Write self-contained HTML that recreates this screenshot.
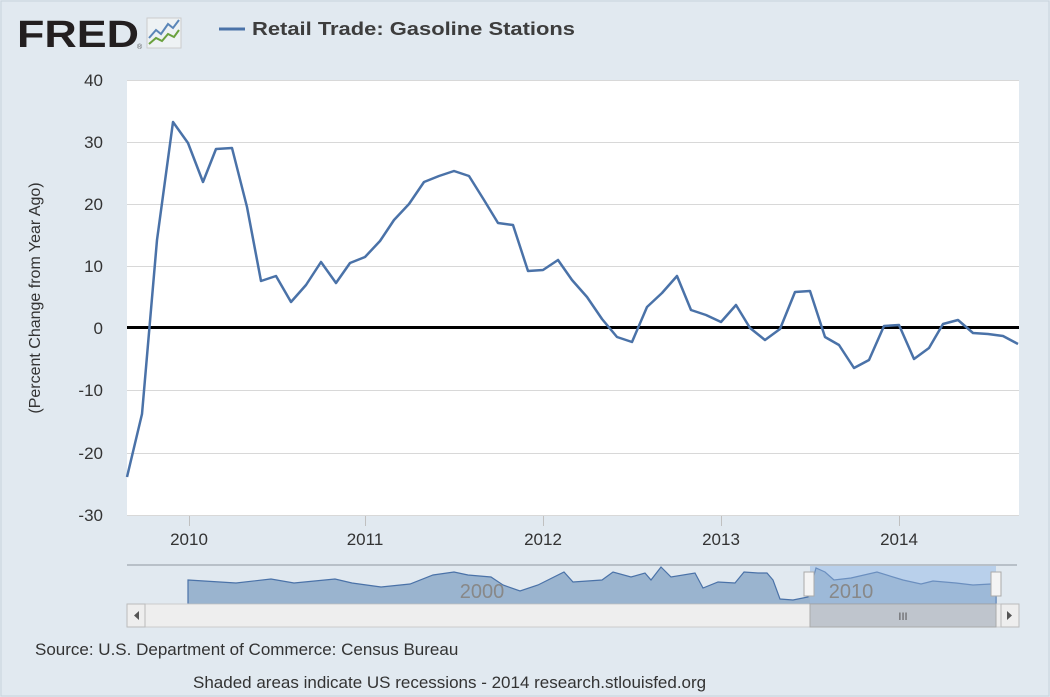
<!DOCTYPE html>
<html><head><meta charset="utf-8"><style>
html,body{margin:0;padding:0;background:#e1e9f0;}
svg{display:block;font-family:"Liberation Sans",sans-serif;}
</style></head><body>
<svg width="1050" height="697" viewBox="0 0 1050 697">
<rect x="0" y="0" width="1050" height="697" fill="#e1e9f0"/>
<rect x="1" y="1" width="1048" height="695" fill="none" stroke="#c8d2dc"/>
<!-- header -->
<text x="17" y="47" font-size="38" font-weight="bold" fill="#231f20" textLength="122" lengthAdjust="spacingAndGlyphs">FRED</text>
<text x="137" y="49" font-size="7" fill="#555">®</text>
<rect x="147" y="18" width="34" height="30" fill="#eef2f4" stroke="#ccc"/>
<polyline points="149,38 156,30 161,34 168,24 173,28 179,20" fill="none" stroke="#5b86b8" stroke-width="2"/>
<polyline points="149,44 156,38 162,41 168,34 174,37 179,30" fill="none" stroke="#6aa13e" stroke-width="2"/>
<line x1="219" y1="29" x2="245" y2="29" stroke="#4a72a8" stroke-width="3"/>
<text x="252" y="35" font-size="18" font-weight="bold" fill="#3d3d3d" textLength="323" lengthAdjust="spacingAndGlyphs">Retail Trade: Gasoline Stations</text>
<!-- plot -->
<rect x="127" y="80" width="892" height="436" fill="#fff"/>
<g stroke="#d8d8d8" stroke-width="1">
<line x1="127" y1="80.5" x2="1019" y2="80.5"/><line x1="127" y1="142.5" x2="1019" y2="142.5"/>
<line x1="127" y1="204.5" x2="1019" y2="204.5"/><line x1="127" y1="266.5" x2="1019" y2="266.5"/>
<line x1="127" y1="390.5" x2="1019" y2="390.5"/><line x1="127" y1="453.5" x2="1019" y2="453.5"/>
<line x1="127" y1="515.5" x2="1019" y2="515.5"/>
</g>
<line x1="127" y1="327.5" x2="1019" y2="327.5" stroke="#000" stroke-width="3"/>
<g stroke="#c0c0c0"><line x1="189.5" y1="516" x2="189.5" y2="526"/><line x1="365.5" y1="516" x2="365.5" y2="526"/><line x1="543.5" y1="516" x2="543.5" y2="526"/><line x1="721.5" y1="516" x2="721.5" y2="526"/><line x1="899.5" y1="516" x2="899.5" y2="526"/></g>
<g font-size="17" fill="#333" text-anchor="end">
<text x="103" y="86">40</text><text x="103" y="148">30</text><text x="103" y="210">20</text><text x="103" y="272">10</text><text x="103" y="334">0</text><text x="103" y="396">-10</text><text x="103" y="459">-20</text><text x="103" y="521">-30</text>
</g>
<g font-size="17" fill="#333" text-anchor="middle">
<text x="189" y="545">2010</text><text x="365" y="545">2011</text><text x="543" y="545">2012</text><text x="721" y="545">2013</text><text x="899" y="545">2014</text>
</g>
<text transform="translate(40,298) rotate(-90)" font-size="16" fill="#333" text-anchor="middle">(Percent Change from Year Ago)</text>
<polyline fill="none" stroke="#4a72a8" stroke-width="2.5" stroke-linejoin="round" points="127,477 142,414 157,240 173,122 188,143 203,182 216,149 232,148 247,207 261,281 276,276 291,302 306,285 321,262 336,283 350,263 365,257 380,241 394,220 409,204 424,182 439,176 454,171 469,176 484,200 498,223 513,225 528,271 543,270 558,260 572,280 587,297 602,319 617,337 632,342 647,307 662,293 677,276 691,310 706,315 721,322 736,305 750,328 765,340 780,329 795,292 810,291 825,337 839,345 854,368 869,360 884,326 899,325 914,359 929,348 943,324 958,320 973,333 988,334 1003,336 1018,344"/>
<!-- navigator -->
<line x1="127" y1="565" x2="1017" y2="565" stroke="#b8c0c8" stroke-width="2"/>
<rect x="810" y="566" width="186" height="38" fill="#c2d6ec"/>
<path d="M188,580 L236,583 271,579 294,583 335,579 352,583 381,587 410,584 433,575 454,572 468,575 491,577 503,585 520,591 538,585 564,572 573,582 602,580 613,572 631,577 645,573 651,580 661,567 671,577 695,573 703,588 718,582 735,583 744,572 758,573 767,573 773,580 780,599 793,600 808,597 816,568 825,572 834,580 851,578 877,572 903,580 921,584 933,581 956,583 973,585 991,584 996,584 L996,604 L188,604 Z" fill="#92aecb" fill-opacity="0.9" stroke="#4a72a8" stroke-width="1.2"/>
<rect x="810" y="566" width="186" height="38" fill="#a8c6ea" fill-opacity="0.35"/>
<text x="482" y="598" font-size="20" fill="#888" text-anchor="middle">2000</text>
<text x="851" y="598" font-size="20" fill="#888" text-anchor="middle">2010</text>
<rect x="804" y="572" width="10" height="24" fill="#f4f4f4" stroke="#aaa"/>
<rect x="991" y="572" width="10" height="24" fill="#f4f4f4" stroke="#aaa"/>
<rect x="127" y="604" width="892" height="23" fill="#eeeeee" stroke="#ccc"/>
<rect x="810" y="604" width="186" height="23" fill="#bfc5cd" stroke="#aaa"/>
<text x="903" y="620" font-size="11" fill="#555" text-anchor="middle">III</text>
<rect x="127" y="604" width="18" height="23" fill="#eee" stroke="#bbb"/>
<path d="M139,611 L134,615.5 L139,620 Z" fill="#555"/>
<rect x="1001" y="604" width="18" height="23" fill="#eee" stroke="#bbb"/>
<path d="M1007,611 L1012,615.5 L1007,620 Z" fill="#555"/>
<!-- footer -->
<text x="35" y="655" font-size="17" fill="#333">Source: U.S. Department of Commerce: Census Bureau</text>
<text x="193" y="688" font-size="17" fill="#333">Shaded areas indicate US recessions - 2014 research.stlouisfed.org</text>
</svg>
</body></html>
